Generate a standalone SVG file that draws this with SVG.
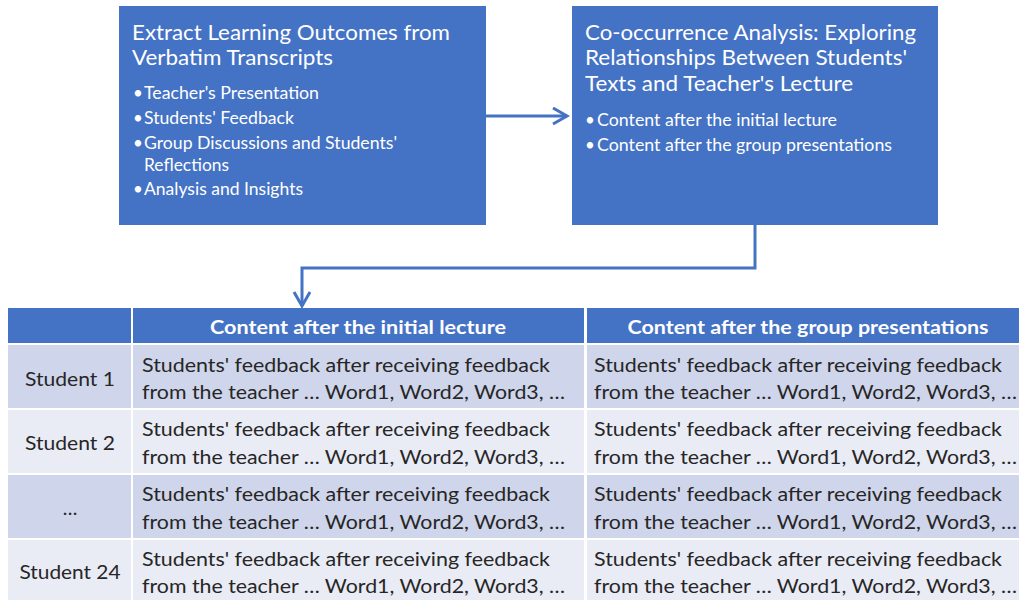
<svg xmlns="http://www.w3.org/2000/svg" width="1019" height="600" viewBox="0 0 1019 600">
<defs>
<style>
.box{fill:#4472C4;}
.t{font-family:Lato,"Liberation Sans",sans-serif;fill:#FFFFFF;}
.title{font-size:21px;}
.bul{font-size:17px;}
.hd{font-family:Lato,"Liberation Sans",sans-serif;font-weight:bold;font-size:18.5px;fill:#FFFFFF;text-anchor:middle;}
.cell{font-family:Lato,"Liberation Sans",sans-serif;font-size:19.5px;fill:#262626;}
.lab{font-family:Lato,"Liberation Sans",sans-serif;font-size:19.5px;fill:#262626;text-anchor:middle;}
.conn{fill:none;stroke:#4472C4;stroke-width:3;}
.hdr{fill:#4472C4;}
.odd{fill:#CFD5EA;}
.even{fill:#E9EBF5;}
</style>
<marker id="arr" markerUnits="userSpaceOnUse" markerWidth="20" markerHeight="20" refX="15" refY="9" orient="auto">
<path d="M1,1 L15,9 L1,17" fill="none" stroke="#4472C4" stroke-width="3"/>
</marker>
</defs>
<rect width="1019" height="600" fill="#FFFFFF"/>

<g id="node-extract">
<rect class="box" x="119" y="6" width="367" height="219"/>
<text class="t title" x="132" y="40" textLength="318" lengthAdjust="spacingAndGlyphs">Extract Learning Outcomes from</text>
<text class="t title" x="132" y="65" textLength="201" lengthAdjust="spacingAndGlyphs">Verbatim Transcripts</text>
<text class="t bul" x="133" y="99">•</text>
<text class="t bul" x="144" y="99" textLength="175" lengthAdjust="spacingAndGlyphs">Teacher's Presentation</text>
<text class="t bul" x="133" y="124">•</text>
<text class="t bul" x="144" y="124" textLength="150" lengthAdjust="spacingAndGlyphs">Students' Feedback</text>
<text class="t bul" x="133" y="149">•</text>
<text class="t bul" x="144" y="149" textLength="253" lengthAdjust="spacingAndGlyphs">Group Discussions and Students'</text>
<text class="t bul" x="144" y="171" textLength="85" lengthAdjust="spacingAndGlyphs">Reflections</text>
<text class="t bul" x="133" y="195">•</text>
<text class="t bul" x="144" y="195" textLength="159" lengthAdjust="spacingAndGlyphs">Analysis and Insights</text>
</g>

<g id="node-cooccurrence">
<rect class="box" x="572" y="6" width="366" height="219"/>
<text class="t title" x="585" y="40" textLength="331" lengthAdjust="spacingAndGlyphs">Co-occurrence Analysis: Exploring</text>
<text class="t title" x="585" y="65" textLength="322" lengthAdjust="spacingAndGlyphs">Relationships Between Students'</text>
<text class="t title" x="585" y="91" textLength="268" lengthAdjust="spacingAndGlyphs">Texts and Teacher's Lecture</text>
<text class="t bul" x="585" y="126">•</text>
<text class="t bul" x="597" y="126" textLength="240" lengthAdjust="spacingAndGlyphs">Content after the initial lecture</text>
<text class="t bul" x="585" y="151">•</text>
<text class="t bul" x="597" y="151" textLength="295" lengthAdjust="spacingAndGlyphs">Content after the group presentations</text>
</g>

<g id="node-table">
<rect class="hdr" x="8" y="308" width="123" height="35"/>
<rect class="hdr" x="133" y="308" width="451" height="35"/>
<rect class="hdr" x="587" y="308" width="432" height="35"/>
<text class="hd" x="358" y="334" textLength="296" lengthAdjust="spacingAndGlyphs">Content after the initial lecture</text>
<text class="hd" x="808" y="334" textLength="361" lengthAdjust="spacingAndGlyphs">Content after the group presentations</text>

<rect class="odd" x="8" y="345" width="123" height="63"/>
<rect class="odd" x="133" y="345" width="451" height="63"/>
<rect class="odd" x="587" y="345" width="432" height="63"/>
<rect class="even" x="8" y="410" width="123" height="63"/>
<rect class="even" x="133" y="410" width="451" height="63"/>
<rect class="even" x="587" y="410" width="432" height="63"/>
<rect class="odd" x="8" y="475" width="123" height="63"/>
<rect class="odd" x="133" y="475" width="451" height="63"/>
<rect class="odd" x="587" y="475" width="432" height="63"/>
<rect class="even" x="8" y="540" width="123" height="60"/>
<rect class="even" x="133" y="540" width="451" height="60"/>
<rect class="even" x="587" y="540" width="432" height="60"/>

<text class="lab" x="70" y="386" textLength="90" lengthAdjust="spacingAndGlyphs">Student 1</text>
<text class="lab" x="70" y="450" textLength="90" lengthAdjust="spacingAndGlyphs">Student 2</text>
<text class="lab" x="70" y="515">…</text>
<text class="lab" x="70" y="579" textLength="101" lengthAdjust="spacingAndGlyphs">Student 24</text>

<text class="cell" x="142" y="372" textLength="408" lengthAdjust="spacingAndGlyphs">Students' feedback after receiving feedback</text>
<text class="cell" x="142" y="399" textLength="423" lengthAdjust="spacingAndGlyphs">from the teacher … Word1, Word2, Word3, …</text>
<text class="cell" x="142" y="436" textLength="408" lengthAdjust="spacingAndGlyphs">Students' feedback after receiving feedback</text>
<text class="cell" x="142" y="464" textLength="423" lengthAdjust="spacingAndGlyphs">from the teacher … Word1, Word2, Word3, …</text>
<text class="cell" x="142" y="501" textLength="408" lengthAdjust="spacingAndGlyphs">Students' feedback after receiving feedback</text>
<text class="cell" x="142" y="529" textLength="423" lengthAdjust="spacingAndGlyphs">from the teacher … Word1, Word2, Word3, …</text>
<text class="cell" x="142" y="566" textLength="408" lengthAdjust="spacingAndGlyphs">Students' feedback after receiving feedback</text>
<text class="cell" x="142" y="593" textLength="423" lengthAdjust="spacingAndGlyphs">from the teacher … Word1, Word2, Word3, …</text>

<text class="cell" x="594" y="372" textLength="408" lengthAdjust="spacingAndGlyphs">Students' feedback after receiving feedback</text>
<text class="cell" x="594" y="399" textLength="423" lengthAdjust="spacingAndGlyphs">from the teacher … Word1, Word2, Word3, …</text>
<text class="cell" x="594" y="436" textLength="408" lengthAdjust="spacingAndGlyphs">Students' feedback after receiving feedback</text>
<text class="cell" x="594" y="464" textLength="423" lengthAdjust="spacingAndGlyphs">from the teacher … Word1, Word2, Word3, …</text>
<text class="cell" x="594" y="501" textLength="408" lengthAdjust="spacingAndGlyphs">Students' feedback after receiving feedback</text>
<text class="cell" x="594" y="529" textLength="423" lengthAdjust="spacingAndGlyphs">from the teacher … Word1, Word2, Word3, …</text>
<text class="cell" x="594" y="566" textLength="408" lengthAdjust="spacingAndGlyphs">Students' feedback after receiving feedback</text>
<text class="cell" x="594" y="593" textLength="423" lengthAdjust="spacingAndGlyphs">from the teacher … Word1, Word2, Word3, …</text>
</g>

<g id="connectors">
<path class="conn" d="M486,116 L567,116" marker-end="url(#arr)"/>
<path class="conn" d="M755,225 L755,268 L302,268 L302,306" marker-end="url(#arr)"/>
</g>
</svg>
